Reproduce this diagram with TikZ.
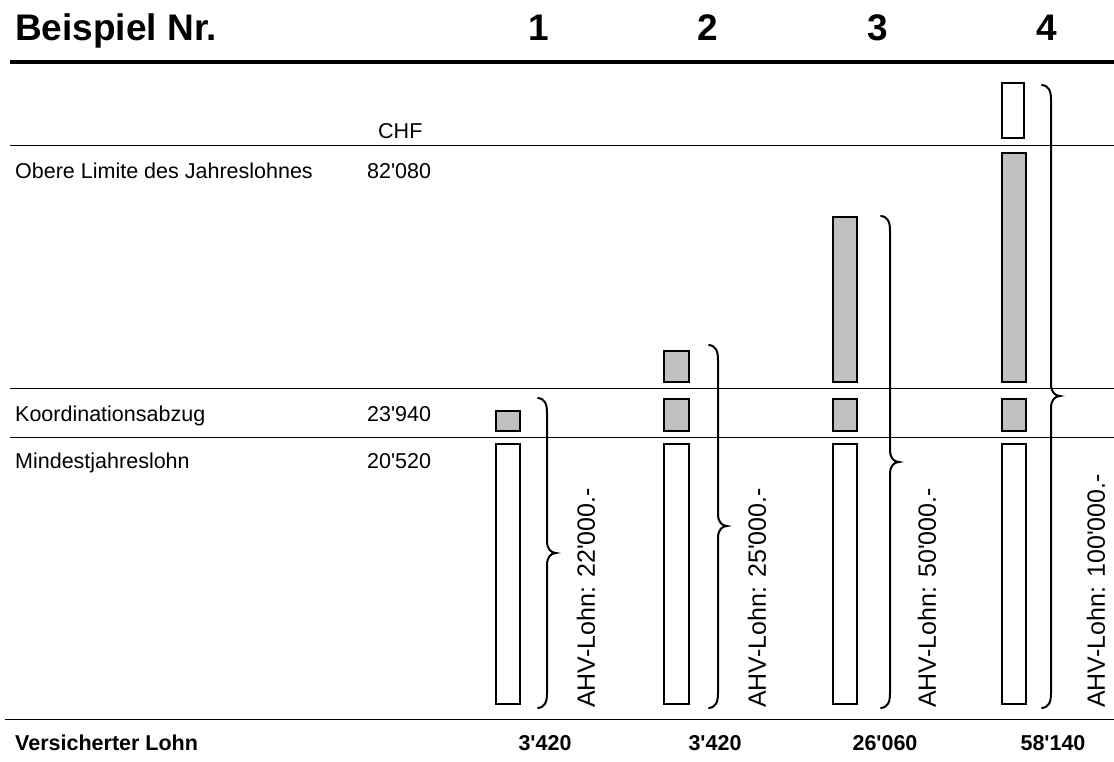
\documentclass[tikz,border=0pt]{standalone}
\usepackage{fontspec}
\setmainfont{Liberation Sans}[Ligatures=TeXOff]
\definecolor{barGrey}{RGB}{192,192,192}
\newcommand\mybrace[4]{%
  \draw[brace] ({#1-9},#2) .. controls ({#1-2},{#2+1}) and (#1,{#2+6}) .. (#1,{#2+15})
    -- (#1,{#3-12}) .. controls (#1,{#3-4}) and ({#1+4},#3) .. ({#1+9},#3)
    .. controls ({#1+4},#3) and (#1,{#3+4}) .. (#1,{#3+12})
    -- (#1,{#4-15}) .. controls (#1,{#4-6}) and ({#1-2},{#4-1}) .. ({#1-9},#4);}
\begin{document}
\begin{tikzpicture}[x=1pt,y=-1pt,
  lbl/.style={inner sep=0pt, anchor=base west, font=\fontsize{21.5}{24}\selectfont},
  hdr/.style={inner sep=0pt, font=\fontsize{37}{40}\selectfont\bfseries},
  boldlbl/.style={inner sep=0pt, font=\fontsize{21.5}{24}\selectfont\bfseries},
  vlbl/.style={inner sep=0pt, rotate=90, anchor=west, font=\fontsize{25}{28}\selectfont},
  thinrule/.style={line width=1pt},
  thickrule/.style={line width=4pt},
  greybar/.style={draw=black, line width=2pt, fill=barGrey},
  whitebar/.style={draw=black, line width=2pt, fill=white},
  brace/.style={line width=2pt, line cap=round}]
\useasboundingbox (0,0) rectangle (1114,762);

% header
\node[hdr, anchor=base west] (title) at (15,41) {Beispiel Nr.};
\node[hdr, anchor=base] (h1) at (539,41) {1};
\node[hdr, anchor=base] (h2) at (708,41) {2};
\node[hdr, anchor=base] (h3) at (878,41) {3};
\node[hdr, anchor=base] (h4) at (1047,41) {4};

% rules
\draw[thickrule] (10,62) -- (1114,62);
\draw[thinrule] (10,146) -- (1114,146);
\draw[thinrule] (10,388) -- (1114,388);
\draw[thinrule] (10,437) -- (1114,437);
\draw[thinrule] (5,719) -- (1114,719);

% left labels
\node[lbl] (chf) at (378,139) {CHF};
\node[lbl] (obere) at (15,179) {Obere Limite des Jahreslohnes};
\node[lbl] (obereV) at (367,179) {82'080};
\node[lbl] (koord) at (15,421) {Koordinationsabzug};
\node[lbl] (koordV) at (367,421) {23'940};
\node[lbl] (mind) at (15,468) {Mindestjahreslohn};
\node[lbl] (mindV) at (367,468) {20'520};

% bars column 1
\draw[greybar] (496,411) rectangle (520,431);
\draw[whitebar] (496,444) rectangle (520,704);
% column 2
\draw[greybar] (664,351) rectangle (689,382);
\draw[greybar] (664,399) rectangle (689,431);
\draw[whitebar] (664,444) rectangle (689,704);
% column 3
\draw[greybar] (833,217) rectangle (857,382);
\draw[greybar] (833,399) rectangle (857,431);
\draw[whitebar] (833,444) rectangle (857,704);
% column 4
\draw[whitebar] (1002,83) rectangle (1024,138);
\draw[greybar] (1002,153) rectangle (1026,382);
\draw[greybar] (1002,399) rectangle (1026,431);
\draw[whitebar] (1002,444) rectangle (1026,704);

% braces
\mybrace{547}{398}{553}{708}
\mybrace{718}{345}{526}{708}
\mybrace{890}{216}{462}{708}
\mybrace{1051}{85}{396}{708}

% rotated labels
\node[vlbl] (ahv1) at (586,708) {AHV-Lohn: 22'000.-};
\node[vlbl] (ahv2) at (757,708) {AHV-Lohn: 25'000.-};
\node[vlbl] (ahv3) at (927,708) {AHV-Lohn: 50'000.-};
\node[vlbl] (ahv4) at (1096,708) {AHV-Lohn: 100'000.-};

% bottom row
\node[boldlbl, anchor=base west] (vers) at (15,750) {Versicherter Lohn};
\node[boldlbl, anchor=base] (v1) at (545,750) {3'420};
\node[boldlbl, anchor=base] (v2) at (715,750) {3'420};
\node[boldlbl, anchor=base] (v3) at (885,750) {26'060};
\node[boldlbl, anchor=base] (v4) at (1053,750) {58'140};
\end{tikzpicture}
\end{document}
